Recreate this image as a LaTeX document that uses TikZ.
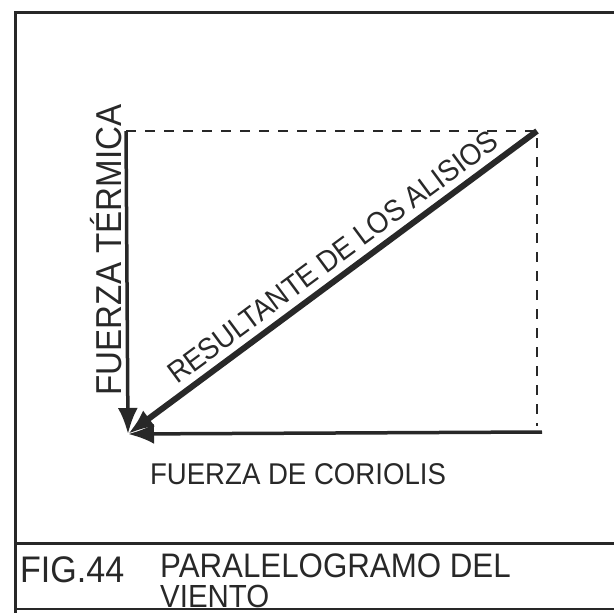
\documentclass[tikz,border=0pt]{standalone}
\usepackage{fontspec}
\setmainfont{Liberation Sans}[FakeStretch=0.92]
\usetikzlibrary{arrows.meta}
\definecolor{tinta}{RGB}{40,40,40}
\tikzset{
  forza/.style={draw=tinta,line width=3.5pt,-{Latex[length=26pt,width=20pt]}},
  tratteggio/.style={draw=tinta,line width=2.5pt,dash pattern=on 10pt off 9pt},
  scritta/.style={text=tinta,inner sep=0pt,font=\fontsize{32}{34}\selectfont}
}
\begin{document}
\begin{tikzpicture}[x=1pt,y=-1pt]
  \useasboundingbox (0,0) rectangle (614,613);
  %cornice
  \draw[tinta,line width=3pt] (614,12) -- (15,12) -- (15,613);
  \draw[tinta,line width=3pt] (15,543) -- (614,543);
  \draw[tinta,line width=2.5pt] (15,609) -- (614,609);

  %vertici del parallelogramma
  \coordinate (O) at (128,434);
  \coordinate (T) at (126,131);
  \coordinate (A) at (537,131);
  \coordinate (C) at (542,432);
  \coordinate (D) at (537,426);

  %lati tratteggiati
  \draw[tratteggio] (T) -- (A) -- (D);

  %forza termica e forza di coriolis
  \draw[forza] (T) -- (O);
  \draw[forza] (C) -- (O);

  %risultante
  \draw[forza,line width=6pt] (A) -- (O)
    node[pos=.47,sloped,above=7pt,scritta,font=\fontsize{30}{32}\selectfont] (alisios) {RESULTANTE DE LOS ALISIOS};

  %scritte
  \node[scritta,rotate=90,font=\fontsize{36}{38}\selectfont] (termica) at (106,250) {FUERZA TÉRMICA};
  \node[scritta,font=\fontsize{30}{32}\selectfont] (coriolis) at (298,474) {FUERZA DE CORIOLIS};

  %didascalia
  \node[scritta,anchor=west,font=\fontsize{37}{39}\selectfont] (fig) at (20,570) {FIG.44};
  \node[scritta,anchor=west,font=\fontsize{34}{36}\selectfont] (titolo) at (160,566) {PARALELOGRAMO DEL};
  \node[scritta,anchor=west] (viento) at (160,596) {VIENTO};
\end{tikzpicture}
\end{document}
